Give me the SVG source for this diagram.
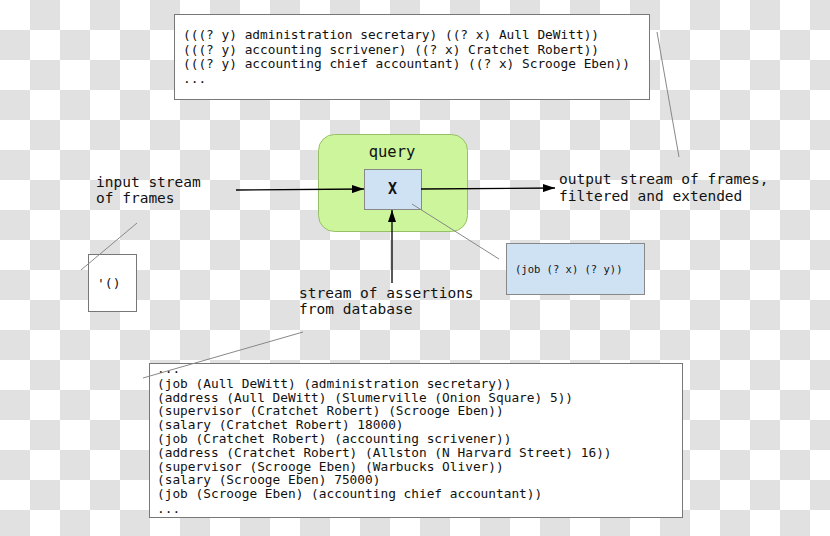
<svg xmlns="http://www.w3.org/2000/svg" width="830" height="536" viewBox="0 0 830 536">
<defs>
<pattern id="checker" x="0" y="0" width="60" height="60" patternUnits="userSpaceOnUse">
<rect x="0" y="0" width="60" height="60" fill="#ffffff"/>
<rect x="30" y="0" width="30" height="30" fill="#e1e1e1"/>
<rect x="0" y="30" width="30" height="30" fill="#e1e1e1"/>
</pattern>
<marker id="arrow" viewBox="0 0 12 8" refX="12" refY="4" markerWidth="12" markerHeight="8" markerUnits="userSpaceOnUse" orient="auto">
<path d="M0,0 L12,4 L0,8 Z" fill="#000"/>
</marker>
<style>
.mono{font-family:"DejaVu Sans Mono","Liberation Mono",monospace;fill:#111;}
.code{font-size:12.8px;}
.label{font-size:14.5px;}
.box{fill:#ffffff;stroke:#777;stroke-width:1;}
.blue{fill:#cfe2f3;stroke:#888;stroke-width:1;}
.callout{stroke:#888;stroke-width:1;fill:none;}
.flow{stroke:#000;stroke-width:1.3;fill:none;marker-end:url(#arrow);}
</style>
</defs>
<rect x="0" y="0" width="830" height="536" fill="url(#checker)"/>

<g id="results">
<rect class="box" x="174.5" y="14.5" width="475" height="85"/>
<text class="mono code" x="183" y="39">(((? y) administration secretary) ((? x) Aull DeWitt))</text>
<text class="mono code" x="183" y="53.7">(((? y) accounting scrivener) ((? x) Cratchet Robert))</text>
<text class="mono code" x="183" y="68.4">(((? y) accounting chief accountant) ((? x) Scrooge Eben))</text>
<text class="mono code" x="183" y="83">...</text>
</g>

<g id="query">
<rect x="318.5" y="134.5" width="149" height="97" rx="16" ry="16" fill="#ccf59c" stroke="#97c066" stroke-width="1"/>
<text class="mono" x="392" y="157" font-size="15.5" text-anchor="middle">query</text>
</g>

<g id="pattern-x">
<rect class="blue" x="364.5" y="169.5" width="57" height="40"/>
<text class="mono" x="392.5" y="194" font-size="15" font-weight="bold" text-anchor="middle">X</text>
</g>

<g id="input-label">
<text class="mono label" x="96" y="187">input stream</text>
<text class="mono label" x="96" y="203">of frames</text>
</g>

<g id="empty-frame">
<rect class="box" x="88.5" y="254.5" width="48" height="57"/>
<text class="mono" x="97" y="288" font-size="13">'()</text>
</g>

<g id="output-label">
<text class="mono label" x="559" y="183.5">output stream of frames,</text>
<text class="mono label" x="559" y="200.5">filtered and extended</text>
</g>

<g id="pattern-text">
<rect class="blue" x="506.5" y="243.5" width="138" height="51"/>
<text class="mono" x="515" y="273" font-size="10.5">(job (? x) (? y))</text>
</g>

<g id="db-label">
<text class="mono label" x="299" y="298">stream of assertions</text>
<text class="mono label" x="299" y="314">from database</text>
</g>

<g id="database">
<rect class="box" x="149.5" y="363.5" width="533" height="154"/>
<text class="mono code" x="157" y="373">...</text>
<text class="mono code" x="157" y="387.8">(job (Aull DeWitt) (administration secretary))</text>
<text class="mono code" x="157" y="401.6">(address (Aull DeWitt) (Slumerville (Onion Square) 5))</text>
<text class="mono code" x="157" y="415.4">(supervisor (Cratchet Robert) (Scrooge Eben))</text>
<text class="mono code" x="157" y="429.2">(salary (Cratchet Robert) 18000)</text>
<text class="mono code" x="157" y="443">(job (Cratchet Robert) (accounting scrivener))</text>
<text class="mono code" x="157" y="456.8">(address (Cratchet Robert) (Allston (N Harvard Street) 16))</text>
<text class="mono code" x="157" y="470.6">(supervisor (Scrooge Eben) (Warbucks Oliver))</text>
<text class="mono code" x="157" y="484.4">(salary (Scrooge Eben) 75000)</text>
<text class="mono code" x="157" y="498.2">(job (Scrooge Eben) (accounting chief accountant))</text>
<text class="mono code" x="157" y="513">...</text>
</g>

<g id="connectors">
<line class="flow" x1="236" y1="190" x2="364" y2="189"/>
<line class="flow" x1="421" y1="189" x2="555" y2="188"/>
<line class="flow" x1="392" y1="283" x2="392" y2="210"/>
<line class="callout" x1="412" y1="204" x2="499" y2="259"/>
<line class="callout" x1="657" y1="32" x2="679" y2="157"/>
<line class="callout" x1="137" y1="223" x2="81" y2="270"/>
<line class="callout" x1="303" y1="332" x2="143" y2="378"/>
</g>
</svg>
